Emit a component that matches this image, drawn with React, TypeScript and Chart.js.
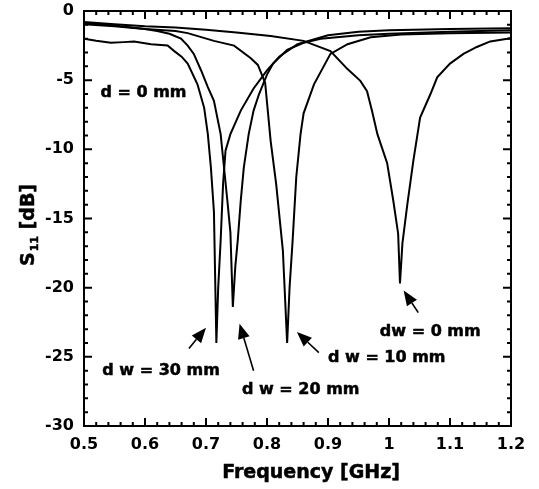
import React, { useEffect, useRef } from "react";
import { Chart, registerables } from "chart.js";
Chart.register(...registerables);

// ---- data ----
const dw30X = [0.5, 0.52, 0.544, 0.565, 0.582, 0.61, 0.637, 0.648, 0.66, 0.67, 0.686, 0.697, 0.703, 0.708, 0.713, 0.717, 0.72, 0.724, 0.728, 0.732, 0.74, 0.757, 0.778, 0.8, 0.82, 0.85, 0.9, 0.95, 1.0, 1.1, 1.2];
const dw30Y = [-2.0, -2.15, -2.3, -2.25, -2.2, -2.4, -2.5, -2.9, -3.3, -3.8, -5.3, -7.0, -8.9, -11.3, -14.5, -24.0, -20.0, -16.6, -12.5, -10.1, -8.9, -7.2, -5.6, -4.3, -3.3, -2.4, -1.75, -1.5, -1.4, -1.3, -1.25];

const dw20X = [0.5, 0.55, 0.6, 0.62, 0.64, 0.659, 0.67, 0.68, 0.692, 0.703, 0.713, 0.724, 0.735, 0.74, 0.744, 0.748, 0.752, 0.757, 0.762, 0.77, 0.778, 0.787, 0.8, 0.81, 0.833, 0.86, 0.888, 0.95, 1.0, 1.1, 1.2];
const dw20Y = [-0.85, -1.05, -1.3, -1.45, -1.65, -2.0, -2.5, -3.1, -4.3, -5.5, -6.5, -8.9, -13.7, -16.0, -21.4, -18.5, -16.6, -13.7, -11.3, -8.9, -7.2, -6.0, -4.6, -3.8, -2.8, -2.3, -2.0, -1.75, -1.65, -1.5, -1.4];

const dw10X = [0.5, 0.55, 0.6, 0.65, 0.67, 0.713, 0.746, 0.773, 0.785, 0.797, 0.806, 0.815, 0.826, 0.833, 0.837, 0.842, 0.848, 0.855, 0.86, 0.877, 0.904, 0.932, 0.97, 1.02, 1.1, 1.2];
const dw10Y = [-0.95, -1.1, -1.3, -1.45, -1.6, -2.16, -2.5, -3.4, -3.9, -5.2, -9.4, -12.5, -17.3, -24.0, -20.0, -16.6, -12.0, -8.9, -7.4, -5.3, -3.1, -2.4, -1.9, -1.7, -1.6, -1.55];

const dw0X = [0.5, 0.55, 0.6, 0.65, 0.7, 0.75, 0.806, 0.86, 0.904, 0.932, 0.953, 0.964, 0.972, 0.981, 0.997, 1.007, 1.015, 1.018, 1.022, 1.03, 1.04, 1.051, 1.068, 1.079, 1.1, 1.122, 1.144, 1.166, 1.194, 1.2];
const dw0Y = [-0.8, -0.95, -1.1, -1.2, -1.35, -1.55, -1.8, -2.16, -2.9, -4.2, -5.05, -5.8, -7.2, -8.9, -11.0, -13.7, -16.1, -19.7, -16.8, -14.0, -10.8, -7.7, -6.0, -4.8, -3.8, -3.1, -2.6, -2.2, -2.0, -1.95];

const xTickValues = [0.5, 0.6, 0.7, 0.8, 0.9, 1.0, 1.1, 1.2];
const xTickLabels = ["0.5", "0.6", "0.7", "0.8", "0.9", "1", "1.1", "1.2"];
const yTickValues = [-30, -25, -20, -15, -10, -5, 0];
const yTickLabels = ["-30", "-25", "-20", "-15", "-10", "-5", "0"];
const xMinorStep = 0.02;
const yMinorStep = 1;

const xTitle = "Frequency [GHz]";
const yTitleMain = "S";
const yTitleSub = "11";
const yTitleRest = " [dB]";

// annotations (data coordinates)
const noteTexts = ["d = 0 mm", "d w = 30 mm", "d w = 20 mm", "d w = 10 mm", "dw = 0 mm"];
const noteX = [0.527, 0.53, 0.759, 0.9, 0.985];
const noteY = [-5.9, -26.0, -27.4, -25.1, -23.2];
const arrowTailX = [0.672, 0.778, 0.885, 1.048];
const arrowTailY = [-24.4, -26.0, -24.7, -21.8];
const arrowHeadX = [0.7, 0.755, 0.849, 1.024];
const arrowHeadY = [-22.9, -22.6, -23.2, -20.2];

const FONT = "'DejaVu Sans', sans-serif";

const zip = (xs: number[], ys: number[]) => xs.map((x, i) => ({ x, y: ys[i] }));

const boldText = (ctx: CanvasRenderingContext2D, t: string, x: number, y: number) => {
  ctx.fillText(t, x, y);
  ctx.lineWidth = 0.5;
  ctx.strokeText(t, x, y);
};

const overlay = {
  id: "overlay",
  afterDraw(chart: any) {
    const { ctx, chartArea: a, scales } = chart;
    const xs = scales.x;
    const ys = scales.y;
    ctx.save();
    ctx.strokeStyle = "#000";
    ctx.fillStyle = "#000";
    ctx.lineWidth = 2;
    ctx.strokeRect(a.left, a.top, a.right - a.left, a.bottom - a.top);

    // inward ticks on all sides
    ctx.beginPath();
    for (let i = 0; i <= 35; i++) {
      const v = 0.5 + i * xMinorStep;
      const px = xs.getPixelForValue(v);
      const len = i % 5 === 0 ? 8 : 4;
      ctx.moveTo(px, a.bottom);
      ctx.lineTo(px, a.bottom - len);
      ctx.moveTo(px, a.top);
      ctx.lineTo(px, a.top + len);
    }
    for (let i = 0; i <= 30; i++) {
      const v = -30 + i * yMinorStep;
      const py = ys.getPixelForValue(v);
      const len = i % 5 === 0 ? 8 : 4;
      ctx.moveTo(a.left, py);
      ctx.lineTo(a.left + len, py);
      ctx.moveTo(a.right, py);
      ctx.lineTo(a.right - len, py);
    }
    ctx.stroke();

    // x title
    ctx.font = `bold 19px ${FONT}`;
    ctx.textAlign = "center";
    ctx.textBaseline = "alphabetic";
    boldText(ctx, xTitle, 311, 478);

    // y title rotated with subscript
    ctx.save();
    ctx.translate(34, 266);
    ctx.rotate(-Math.PI / 2);
    ctx.textAlign = "left";
    ctx.font = `bold 19px ${FONT}`;
    boldText(ctx, yTitleMain, 0, 0);
    let w = ctx.measureText(yTitleMain).width;
    ctx.font = `bold 11px ${FONT}`;
    boldText(ctx, yTitleSub, w + 1, 4);
    w += ctx.measureText(yTitleSub).width + 1;
    ctx.font = `bold 19px ${FONT}`;
    boldText(ctx, yTitleRest, w, 0);
    ctx.restore();

    // annotation texts
    ctx.font = `bold 16px ${FONT}`;
    ctx.textAlign = "left";
    ctx.textBaseline = "middle";
    noteTexts.forEach((t, i) => {
      boldText(ctx, t, xs.getPixelForValue(noteX[i]), ys.getPixelForValue(noteY[i]));
    });

    // arrows
    arrowTailX.forEach((_, i) => {
      const x1 = xs.getPixelForValue(arrowTailX[i]);
      const y1 = ys.getPixelForValue(arrowTailY[i]);
      const x2 = xs.getPixelForValue(arrowHeadX[i]);
      const y2 = ys.getPixelForValue(arrowHeadY[i]);
      const ang = Math.atan2(y2 - y1, x2 - x1);
      const hl = 15;
      const hw = 6;
      const bx = x2 - hl * Math.cos(ang);
      const by = y2 - hl * Math.sin(ang);
      ctx.lineWidth = 1.6;
      ctx.beginPath();
      ctx.moveTo(x1, y1);
      ctx.lineTo(bx, by);
      ctx.stroke();
      ctx.beginPath();
      ctx.moveTo(x2, y2);
      ctx.lineTo(bx + hw * Math.sin(ang), by - hw * Math.cos(ang));
      ctx.lineTo(bx - hw * Math.sin(ang), by + hw * Math.cos(ang));
      ctx.closePath();
      ctx.fill();
    });
    ctx.restore();
  },
};

export default function App() {
  const ref = useRef<HTMLCanvasElement | null>(null);
  useEffect(() => {
    document.body.style.margin = "0";
    const canvas = ref.current;
    if (!canvas) return;
    const lineStyle = { borderColor: "#000", borderWidth: 2, pointRadius: 0, tension: 0, fill: false };
    const tickFont = { family: FONT, size: 16, weight: "bold" };
    const chart = new Chart(canvas, {
      type: "line",
      data: {
        datasets: [
          { label: "dw = 30 mm", data: zip(dw30X, dw30Y), ...lineStyle },
          { label: "dw = 20 mm", data: zip(dw20X, dw20Y), ...lineStyle },
          { label: "dw = 10 mm", data: zip(dw10X, dw10Y), ...lineStyle },
          { label: "dw = 0 mm", data: zip(dw0X, dw0Y), ...lineStyle },
        ],
      },
      options: {
        responsive: false,
        animation: false,
        devicePixelRatio: 1,
        layout: { padding: { top: 11, right: 28, left: 0, bottom: 0 } },
        plugins: { legend: { display: false }, tooltip: { enabled: false } },
        scales: {
          x: {
            type: "linear",
            min: 0.5,
            max: 1.2,
            afterBuildTicks: (s: any) => {
              s.ticks = xTickValues.map((v) => ({ value: v }));
            },
            afterFit: (s: any) => {
              s.height = 63;
              s.paddingLeft = 0;
              s.paddingRight = 0;
            },
            grid: { display: false, drawTicks: false },
            border: { display: false },
            ticks: {
              autoSkip: false,
              maxRotation: 0,
              padding: 9,
              color: "#000",
              font: tickFont,
              callback: (_v: any, i: number) => xTickLabels[i],
            },
          },
          y: {
            type: "linear",
            min: -30,
            max: 0,
            afterBuildTicks: (s: any) => {
              s.ticks = yTickValues.map((v) => ({ value: v }));
            },
            afterFit: (s: any) => {
              s.width = 84;
              s.paddingTop = 0;
              s.paddingBottom = 0;
            },
            grid: { display: false, drawTicks: false },
            border: { display: false },
            ticks: {
              autoSkip: false,
              padding: 10,
              color: "#000",
              font: tickFont,
              callback: (_v: any, i: number) => yTickLabels[i],
            },
          },
        },
      },
      plugins: [overlay],
    } as any);
    return () => chart.destroy();
  }, []);
  return <canvas ref={ref} width={539} height={489} style={{ display: "block" }} />;
}
